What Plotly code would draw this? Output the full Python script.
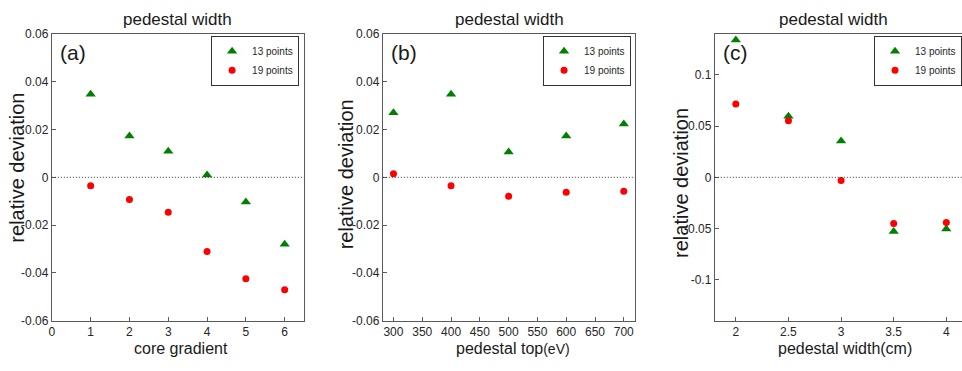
import plotly.graph_objects as go

# ---- data -----------------------------------------------------------------
core_gradient = [1, 2, 3, 4, 5, 6]
core_13 = [0.0348, 0.0173, 0.0109, 0.0010, -0.0103, -0.0280]
core_19 = [-0.0035, -0.0093, -0.0146, -0.0310, -0.0424, -0.0470]

ped_top = [300, 400, 500, 600, 700]
top_13 = [0.0270, 0.0348, 0.0106, 0.0173, 0.0223]
top_19 = [0.0015, -0.0035, -0.0079, -0.0062, -0.0058]

ped_width = [2, 2.5, 3, 3.5, 4]
width_13 = [0.134, 0.0597, 0.0354, -0.0529, -0.0504]
width_19 = [0.0716, 0.0553, -0.0031, -0.0450, -0.0441]

series_names = ["13 points", "19 points"]
panel_tags = ["(a)", "(b)", "(c)"]
panel_title = "pedestal width"
y_title = "relative deviation"

xticks_a = [0, 1, 2, 3, 4, 5, 6]
xticks_b = [300, 350, 400, 450, 500, 550, 600, 650, 700]
xticks_c = [2, 2.5, 3, 3.5, 4]
xlabels_c = ["2", "2.5", "3", "3.5", "4"]
yticks_ab = [-0.06, -0.04, -0.02, 0, 0.02, 0.04, 0.06]
ylabels_ab = ["-0.06", "-0.04", "-0.02", "0", "0.02", "0.04", "0.06"]
yticks_c = [-0.1, -0.05, 0, 0.05, 0.1]
ylabels_c = ["-0.1", "-0.05", "0", "0.05", "0.1"]

# ---- layout geometry (pixels) --------------------------------------------
W, H = 962, 371
SANS = "Liberation Sans, Arial, sans-serif"
GREEN = "#008000"
RED = "#ff0000"
AXIS_COLOR = "#5a5a5a"
TEXT = "#1a1a1a"

def px_x(p):
    return p / W

def px_y(p):
    return 1 - p / H

panels = [
    dict(x=core_gradient, s13=core_13, s19=core_19, dom=(49, 302), xr=[0, 6.5],
         yr=[-0.06, 0.06], xt=xticks_a, xl=[str(v) for v in xticks_a],
         yt=yticks_ab, yl=ylabels_ab, mirror_y=True),
    dict(x=ped_top, s13=top_13, s19=top_19, dom=(381, 634), xr=[281.5, 719.5],
         yr=[-0.06, 0.06], xt=xticks_b, xl=[str(v) for v in xticks_b],
         yt=yticks_ab, yl=ylabels_ab, mirror_y=True),
    dict(x=ped_width, s13=width_13, s19=width_19, dom=(714, 962), xr=[1.8, 4.149],
         yr=[-0.14, 0.14], xt=xticks_c, xl=xlabels_c,
         yt=yticks_c, yl=ylabels_c, mirror_y=False),
]

fig = go.Figure()
layout = dict(
    width=W, height=H,
    margin=dict(l=0, r=0, t=0, b=0),
    paper_bgcolor="white", plot_bgcolor="white",
    showlegend=True,
)

legend_pos = [
    dict(x=px_x(297), xanchor="right"),
    dict(x=px_x(630), xanchor="right"),
    dict(x=1.0, xanchor="right"),
]

shapes = []
annotations = []
y_dom = [px_y(326), px_y(28)]

for i, p in enumerate(panels):
    n = "" if i == 0 else str(i + 1)
    xa, ya = "x" + n, "y" + n
    leg = "legend" + n
    fig.add_trace(go.Scatter(
        x=p["x"], y=p["s13"], mode="markers", name=series_names[0],
        marker=dict(symbol="triangle-up", size=9, color=GREEN),
        xaxis=xa, yaxis=ya, legend=leg))
    fig.add_trace(go.Scatter(
        x=p["x"], y=p["s19"], mode="markers", name=series_names[1],
        marker=dict(symbol="circle", size=7, color=RED),
        xaxis=xa, yaxis=ya, legend=leg))

    axis_common = dict(
        showline=True, linecolor=AXIS_COLOR, linewidth=1,
        ticks="inside", ticklen=4, tickcolor=AXIS_COLOR,
        showgrid=False, zeroline=False,
        tickfont=dict(family=SANS, size=12, color="#262626"),
    )
    layout["xaxis" + n] = dict(
        axis_common, domain=[px_x(p["dom"][0]), px_x(p["dom"][1])],
        range=p["xr"], tickvals=p["xt"], ticktext=p["xl"],
        anchor=ya, mirror=True,
    )
    layout["yaxis" + n] = dict(
        axis_common, domain=y_dom, range=p["yr"],
        tickvals=p["yt"], ticktext=p["yl"],
        anchor=xa, mirror=p["mirror_y"],
    )
    layout[leg] = dict(
        legend_pos[i], y=px_y(30), yanchor="top",
        bgcolor="white", bordercolor="#333333", borderwidth=1,
        font=dict(family=SANS, size=10, color="#262626"),
        itemwidth=30, tracegroupgap=0,
    )

    # dotted zero reference line across the panel
    shapes.append(dict(
        type="line", xref=xa + " domain", yref=ya, x0=0, x1=1, y0=0, y1=0,
        line=dict(color="#333333", width=1, dash="1px,2px")))

    # panel tag
    annotations.append(dict(
        text=panel_tags[i], xref="paper", yref="paper",
        x=px_x(p["dom"][0] + 6), y=px_y(47), xanchor="left", yanchor="middle",
        showarrow=False, font=dict(family=SANS, size=21, color=TEXT)))

# panel titles
for cx in (175, 508, 833):
    annotations.append(dict(
        text=panel_title, xref="paper", yref="paper", x=px_x(cx), y=px_y(13),
        xanchor="center", yanchor="middle", showarrow=False,
        font=dict(family=SANS, size=17, color=TEXT)))

# y-axis titles
for cx, cy in ((14, 167), (345, 174), (680, 183)):
    annotations.append(dict(
        text=y_title, xref="paper", yref="paper", x=px_x(cx), y=px_y(cy),
        xanchor="center", yanchor="middle", textangle=-90, showarrow=False,
        font=dict(family=SANS, size=20, color=TEXT)))

# x-axis titles
x_titles = [
    ("core gradient", 179),
    ("pedestal top<span style='font-size:14px'>(eV)</span>", 512),
    ("pedestal width(cm)", 845),
]
for txt, cx in x_titles:
    annotations.append(dict(
        text=txt, xref="paper", yref="paper", x=px_x(cx), y=px_y(355),
        xanchor="center", yanchor="middle", showarrow=False,
        font=dict(family=SANS, size=16, color=TEXT)))

layout["shapes"] = shapes
layout["annotations"] = annotations
fig.update_layout(**layout)

fig.write_html("out.html")
